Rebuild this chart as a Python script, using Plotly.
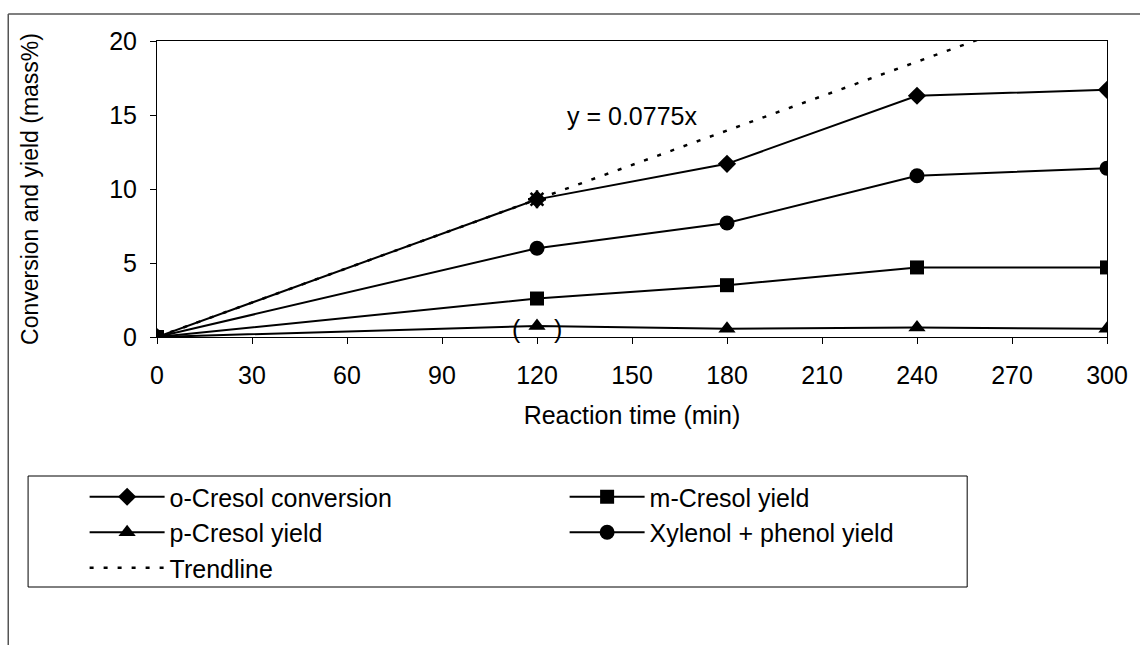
import plotly.graph_objects as go

# ---- data ----
time_min = [0, 120, 180, 240, 300]
o_cresol_conv = [0, 9.3, 11.7, 16.3, 16.7]
m_cresol_yield = [0, 2.6, 3.5, 4.7, 4.7]
p_cresol_yield = [0, 0.75, 0.55, 0.65, 0.55]
xyl_phenol_yield = [0, 6.0, 7.7, 10.9, 11.4]
trend_x = [0, 300]
trend_y = [0, 23.25]
trend_point_x = [120]
trend_point_y = [9.3]
x_ticks = [0, 30, 60, 90, 120, 150, 180, 210, 240, 270, 300]
y_ticks = [0, 5, 10, 15, 20]

FONT = "Liberation Sans, Arial, sans-serif"
FS = 25
FS_Y = 23

# plot-area pixel geometry
W, H = 1140, 645
L, R, T, B = 157, 25, 41, 308
pw = W - L - R
ph = H - T - B

def px(x):
    return (x - L) / pw

def py(y):
    return (H - B - y) / ph

fig = go.Figure()
line = dict(color="black", width=2)
# trendline drawn first so the solid series lies on top of it
fig.add_trace(go.Scatter(x=trend_x, y=trend_y, name="Trendline", mode="lines", legendrank=5,
                         line=dict(color="black", width=2.5, dash="4px,10px")))
fig.add_trace(go.Scatter(x=time_min, y=o_cresol_conv, name="o-Cresol conversion", legendrank=1,
                         mode="lines+markers", line=line,
                         marker=dict(symbol="diamond", size=14, color="black")))
fig.add_trace(go.Scatter(x=time_min, y=m_cresol_yield, name="m-Cresol yield", legendrank=2,
                         mode="lines+markers", line=line,
                         marker=dict(symbol="square", size=14, color="black")))
fig.add_trace(go.Scatter(x=time_min, y=p_cresol_yield, name="p-Cresol yield", legendrank=3,
                         mode="lines+markers", line=line,
                         marker=dict(symbol="triangle-up", size=15, color="black")))
fig.add_trace(go.Scatter(x=time_min, y=xyl_phenol_yield, name="Xylenol + phenol yield",
                         legendrank=4, mode="lines+markers", line=line,
                         marker=dict(symbol="circle", size=15, color="black")))
fig.add_trace(go.Scatter(x=trend_point_x, y=trend_point_y, mode="markers", showlegend=False,
                         marker=dict(symbol="asterisk-open", size=15, color="black",
                                     line=dict(color="black", width=2.5))))

fig.add_annotation(x=150, y=14.9, text="y = 0.0775x", showarrow=False,
                   font=dict(family=FONT, size=FS, color="black"))
fig.add_annotation(x=120, y=p_cresol_yield[1], text="(", xshift=-21, yshift=-3, showarrow=False,
                   font=dict(family=FONT, size=FS, color="black"))
fig.add_annotation(x=120, y=p_cresol_yield[1], text=")", xshift=21, yshift=-3, showarrow=False,
                   font=dict(family=FONT, size=FS, color="black"))

# legend box and outer frame
fig.add_shape(type="rect", xref="paper", yref="paper",
              x0=px(27), x1=px(974), y0=py(587), y1=py(476),
              line=dict(color="black", width=1))
fig.add_shape(type="line", xref="paper", yref="paper",
              x0=px(7), x1=px(7), y0=py(14), y1=py(700),
              line=dict(color="#555", width=1.5))
fig.add_shape(type="line", xref="paper", yref="paper",
              x0=px(7), x1=px(1150), y0=py(14), y1=py(14),
              line=dict(color="#555", width=1.5))

axis_common = dict(showline=True, linecolor="black", linewidth=1, mirror=True,
                   ticks="outside", ticklen=6, tickcolor="black", showgrid=False,
                   zeroline=False)
fig.update_xaxes(range=[0, 300], tickvals=x_ticks, ticklabelstandoff=10,
                 tickfont=dict(family=FONT, size=FS, color="black"),
                 title=dict(text="Reaction time (min)",
                 font=dict(family=FONT, size=FS, color="black"), standoff=18), **axis_common)
fig.update_yaxes(range=[0, 20], tickvals=y_ticks, ticklabelstandoff=8,
                 tickfont=dict(family=FONT, size=FS, color="black"),
                 title=dict(text="Conversion and yield (mass%)",
                 font=dict(family=FONT, size=FS_Y, color="black"), standoff=64), **axis_common)

fig.update_layout(
    width=W, height=H,
    margin=dict(l=L, r=R, t=T, b=B),
    plot_bgcolor="white", paper_bgcolor="white",
    font=dict(family=FONT, size=FS, color="black"),
    legend=dict(orientation="h", x=px(84), y=py(474), xanchor="left", yanchor="top",
                entrywidth=390, entrywidthmode="pixels", itemwidth=75,
                bgcolor="rgba(0,0,0,0)", font=dict(family=FONT, size=FS, color="black")),
)

fig.write_html("out.html")
